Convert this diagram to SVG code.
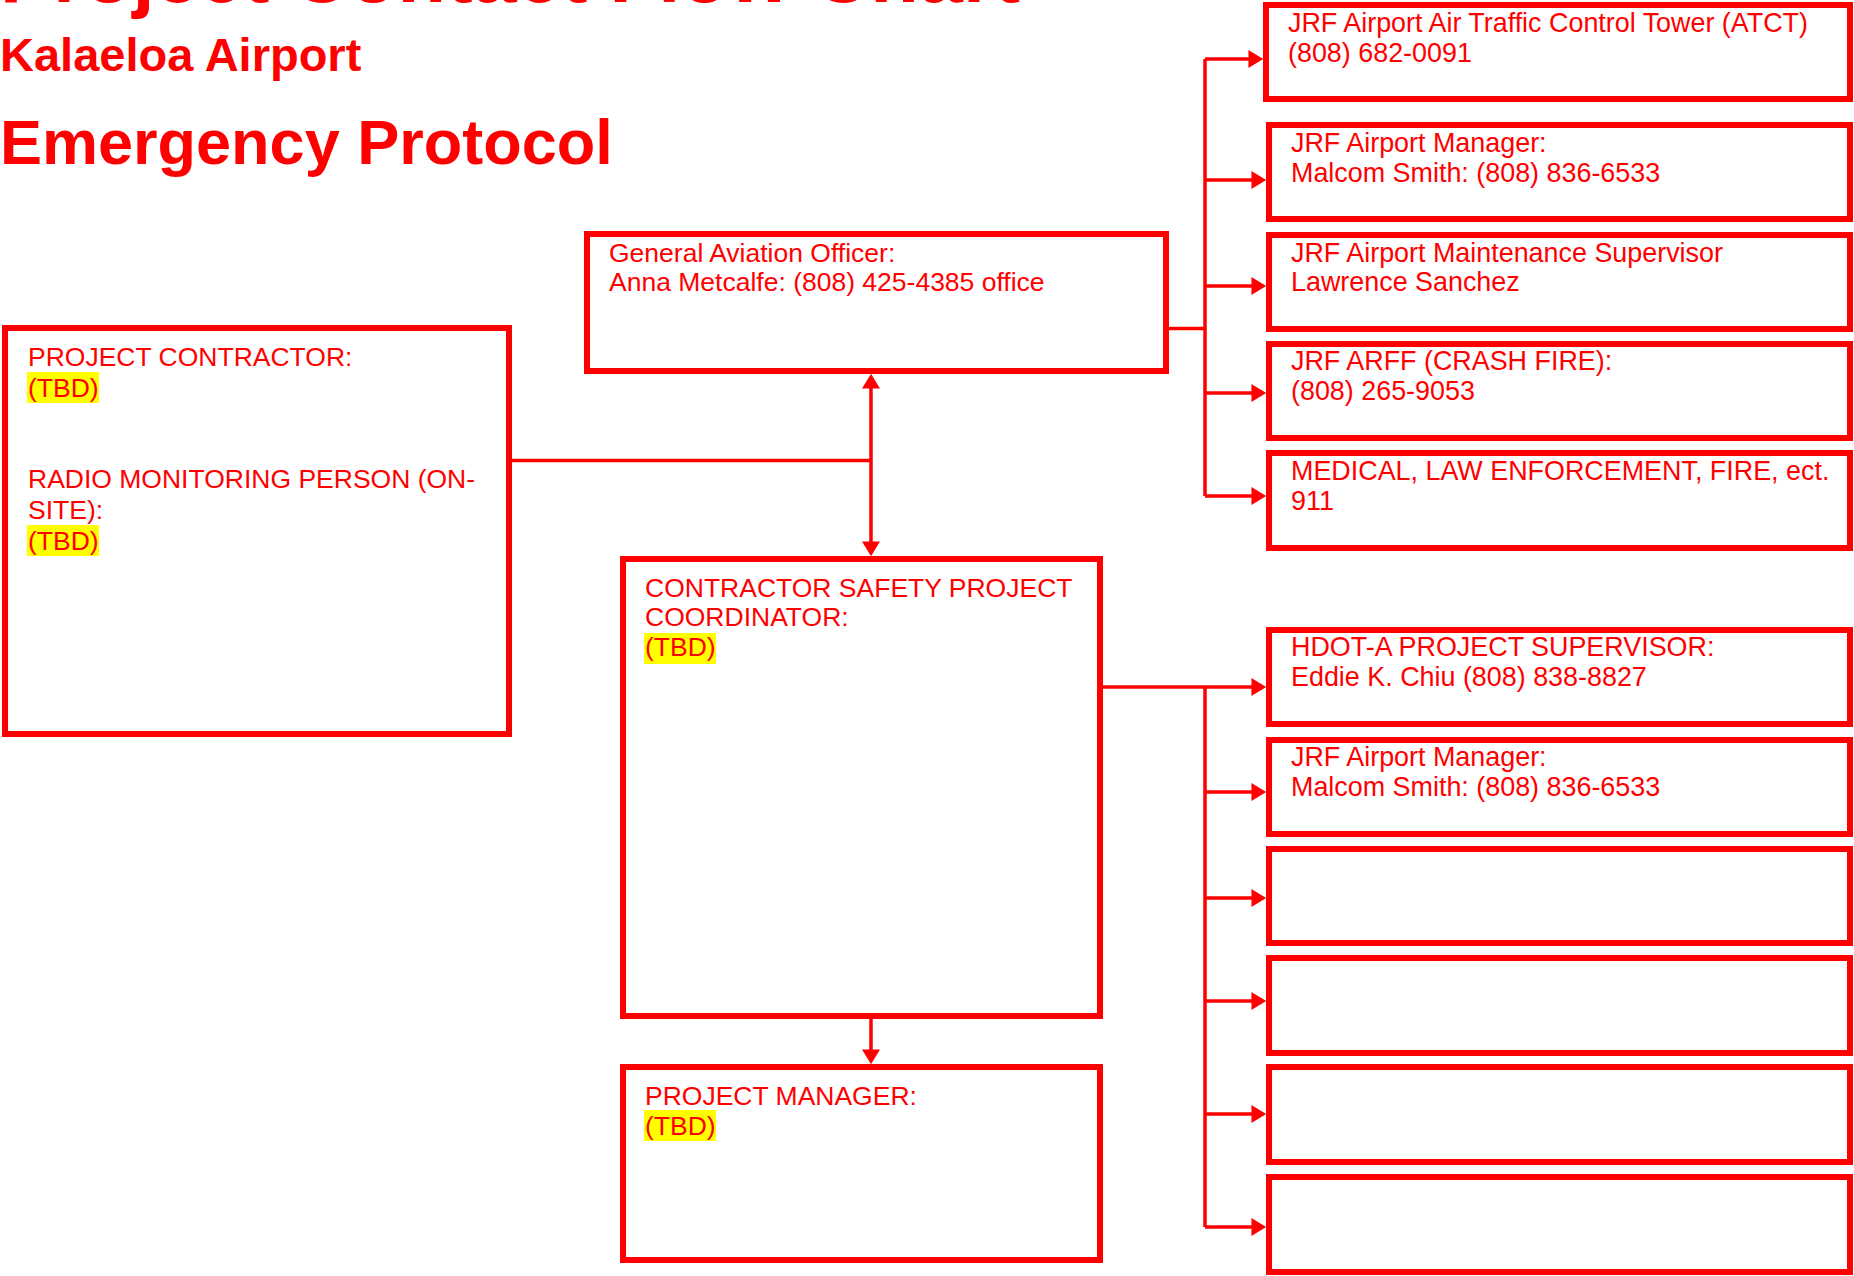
<svg xmlns="http://www.w3.org/2000/svg" width="1854" height="1276" viewBox="0 0 1854 1276">
<style>
.box{fill:#fff;stroke:#ff0000;stroke-width:6}
.t{font-family:"Liberation Sans",Arial,sans-serif;font-size:26.5px;fill:#ff0000}
.r{font-size:26.9px}
.h{font-family:"Liberation Sans",Arial,sans-serif;font-weight:bold;fill:#ff0000}
.hl{fill:#ffff00}
.c{fill:none;stroke:#ff0000;stroke-width:3.5}
</style>
<defs>
<marker id="arr" markerUnits="userSpaceOnUse" markerWidth="16" markerHeight="18" viewBox="0 0 14 17" refX="10" refY="8.5" orient="auto-start-reverse">
<path d="M0,0 L14,8.5 L0,17 z" fill="#ff0000"/>
</marker>
</defs>
<rect width="1854" height="1276" fill="#fff"/>
<g id="title">
<text class="h" x="0" y="2" font-size="79.5">Project Contact Flow Chart</text>
<text class="h" x="0" y="71" font-size="47">Kalaeloa Airport</text>
<text class="h" x="0" y="164" font-size="63">Emergency Protocol</text>
</g>
<g id="connectors">
<path class="c" d="M1169,328.5 H1205"/>
<path class="c" d="M1205,59 V496"/>
<path class="c" d="M1205,59 H1259" marker-end="url(#arr)"/>
<path class="c" d="M1205,180 H1262" marker-end="url(#arr)"/>
<path class="c" d="M1205,286 H1262" marker-end="url(#arr)"/>
<path class="c" d="M1205,393 H1262" marker-end="url(#arr)"/>
<path class="c" d="M1205,496 H1262" marker-end="url(#arr)"/>
<path class="c" d="M512,460.5 H871"/>
<path class="c" d="M871,378 V552" marker-start="url(#arr)" marker-end="url(#arr)"/>
<path class="c" d="M1103,687 H1262" marker-end="url(#arr)"/>
<path class="c" d="M1205,687 V1227"/>
<path class="c" d="M1205,792 H1262" marker-end="url(#arr)"/>
<path class="c" d="M1205,898 H1262" marker-end="url(#arr)"/>
<path class="c" d="M1205,1001 H1262" marker-end="url(#arr)"/>
<path class="c" d="M1205,1114 H1262" marker-end="url(#arr)"/>
<path class="c" d="M1205,1227 H1262" marker-end="url(#arr)"/>
<path class="c" d="M871,1019 V1060" marker-end="url(#arr)"/>
</g>
<g id="project-contractor">
<rect class="box" x="5" y="328" width="504" height="406"/>
<rect class="hl" x="27" y="372" width="72" height="31"/>
<rect class="hl" x="27" y="525" width="72" height="31"/>
<text class="t" x="28" y="366">PROJECT CONTRACTOR:</text>
<text class="t" x="28" y="397">(TBD)</text>
<text class="t" x="28" y="488">RADIO MONITORING PERSON (ON-</text>
<text class="t" x="28" y="519">SITE):</text>
<text class="t" x="28" y="549.5">(TBD)</text>
</g>
<g id="general-aviation-officer">
<rect class="box" x="587" y="234" width="579" height="137"/>
<text class="t" x="609" y="262">General Aviation Officer:</text>
<text class="t" x="609" y="291">Anna Metcalfe: (808) 425-4385 office</text>
</g>
<g id="contractor-safety-coordinator">
<rect class="box" x="623" y="559" width="477" height="457"/>
<rect class="hl" x="644" y="633" width="72" height="31"/>
<text class="t" x="645" y="597">CONTRACTOR SAFETY PROJECT</text>
<text class="t" x="645" y="626">COORDINATOR:</text>
<text class="t" x="645" y="656">(TBD)</text>
</g>
<g id="project-manager">
<rect class="box" x="623" y="1067" width="477" height="193"/>
<rect class="hl" x="644" y="1110" width="72" height="31"/>
<text class="t" x="645" y="1105">PROJECT MANAGER:</text>
<text class="t" x="645" y="1135">(TBD)</text>
</g>
<g id="atct">
<rect class="box" x="1266" y="5" width="584" height="94"/>
<text class="t r" x="1288" y="32">JRF Airport Air Traffic Control Tower (ATCT)</text>
<text class="t r" x="1288" y="62">(808) 682-0091</text>
</g>
<g id="airport-manager-1">
<rect class="box" x="1269" y="125" width="581" height="94"/>
<text class="t r" x="1291" y="152">JRF Airport Manager:</text>
<text class="t r" x="1291" y="182">Malcom Smith: (808) 836-6533</text>
</g>
<g id="maintenance-supervisor">
<rect class="box" x="1269" y="235" width="581" height="94"/>
<text class="t r" x="1291" y="262">JRF Airport Maintenance Supervisor</text>
<text class="t r" x="1291" y="291">Lawrence Sanchez</text>
</g>
<g id="arff">
<rect class="box" x="1269" y="344" width="581" height="94"/>
<text class="t r" x="1291" y="370">JRF ARFF (CRASH FIRE):</text>
<text class="t r" x="1291" y="400">(808) 265-9053</text>
</g>
<g id="emergency-911">
<rect class="box" x="1269" y="453" width="581" height="95"/>
<text class="t r" x="1291" y="480">MEDICAL, LAW ENFORCEMENT, FIRE, ect.</text>
<text class="t r" x="1291" y="510">911</text>
</g>
<g id="hdot-supervisor">
<rect class="box" x="1269" y="630" width="581" height="94"/>
<text class="t r" x="1291" y="656">HDOT-A PROJECT SUPERVISOR:</text>
<text class="t r" x="1291" y="686">Eddie K. Chiu (808) 838-8827</text>
</g>
<g id="airport-manager-2">
<rect class="box" x="1269" y="740" width="581" height="94"/>
<text class="t r" x="1291" y="766">JRF Airport Manager:</text>
<text class="t r" x="1291" y="796">Malcom Smith: (808) 836-6533</text>
</g>
<g id="blank-1"><rect class="box" x="1269" y="849" width="581" height="94"/></g>
<g id="blank-2"><rect class="box" x="1269" y="958" width="581" height="95"/></g>
<g id="blank-3"><rect class="box" x="1269" y="1067" width="581" height="95"/></g>
<g id="blank-4"><rect class="box" x="1269" y="1177" width="581" height="95"/></g>
</svg>
